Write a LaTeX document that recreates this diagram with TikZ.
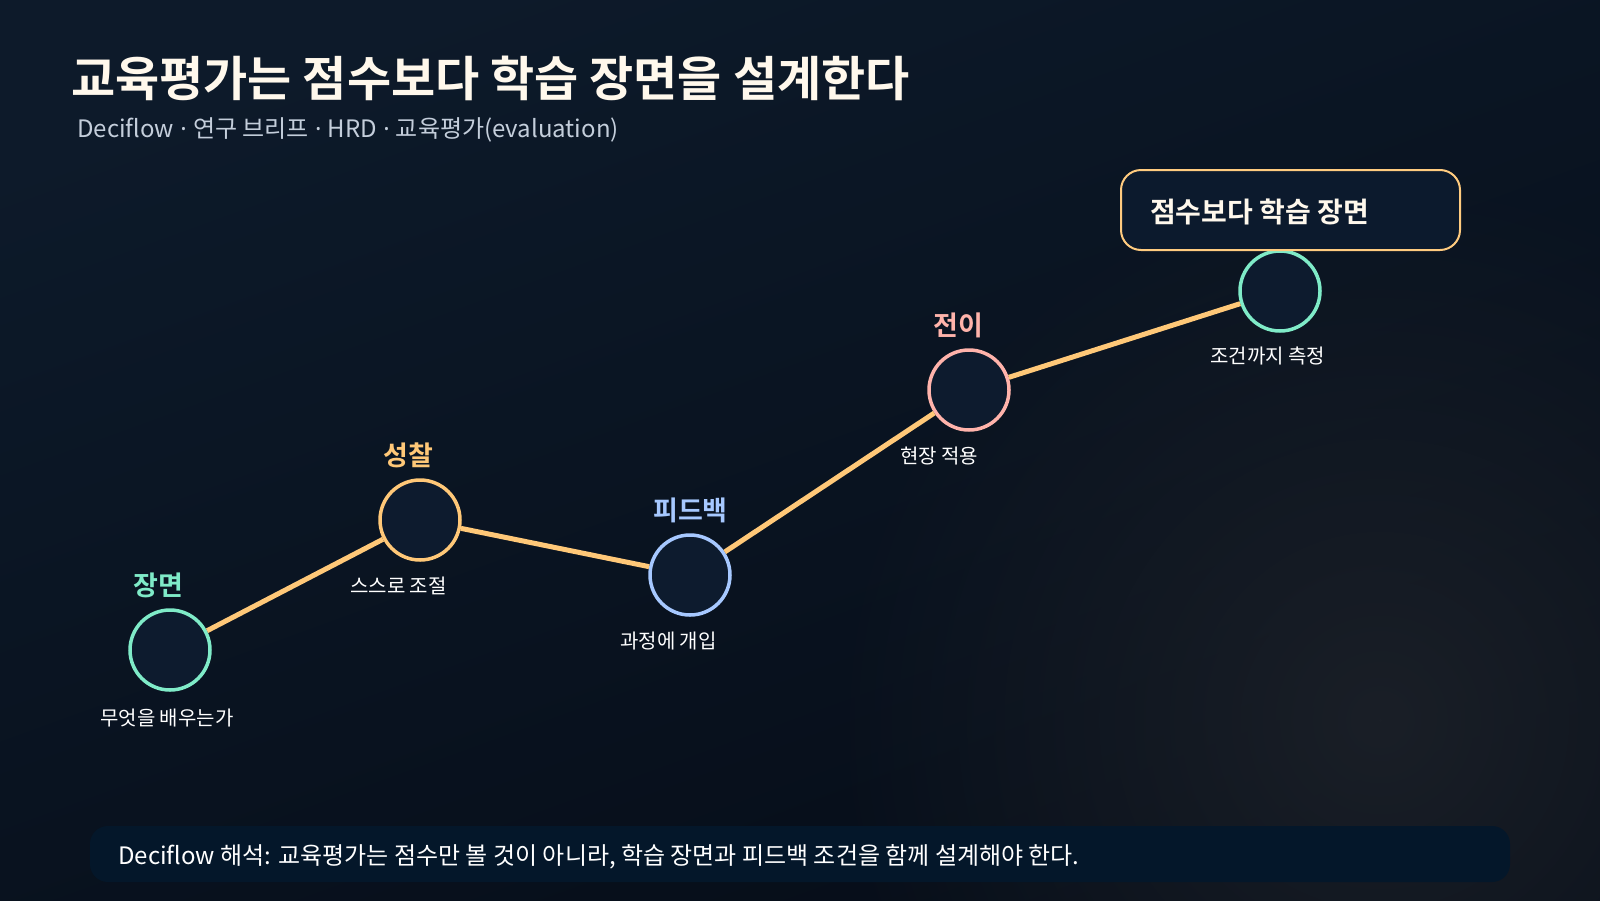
\documentclass[tikz,border=0pt]{standalone}
\usepackage{fontspec}
\setmainfont{Noto Sans CJK KR}[BoldFont={Noto Sans CJK KR Bold}]
\newfontfamily\dotfont{Noto Sans}
\newcommand{\mydot}{{\dotfont\ ·\ }}
\usetikzlibrary{calc,fadings}
\tikzfading[name=glowfade, inner color=transparent!0, outer color=transparent!100]
\definecolor{bgA}{HTML}{0D1A2A}
\definecolor{bgB}{HTML}{060D18}
\definecolor{glow}{HTML}{1A1F27}
\definecolor{nodefill}{HTML}{0D1B2E}
\definecolor{mint}{HTML}{7FEBC8}
\definecolor{amber}{HTML}{FFC878}
\definecolor{sky}{HTML}{A6C8FF}
\definecolor{rose}{HTML}{FFB3AB}
\definecolor{cream}{HTML}{FFF8EC}
\definecolor{subgray}{HTML}{C4CEDB}
\definecolor{barfill}{HTML}{04172A}
\definecolor{boxfill}{HTML}{0C1A2D}
\tikzset{
  stage/.style={circle, minimum size=80pt, inner sep=0pt, line width=3.5pt, fill=nodefill},
  conn/.style={draw=amber, line width=5pt},
  toplabel/.style={anchor=base west, inner sep=0pt, font=\fontsize{27}{30}\selectfont\bfseries},
  sublabel/.style={anchor=base west, inner sep=0pt, text=white, font=\fontsize{20}{23}\selectfont},
}
\begin{document}
\begin{tikzpicture}[x=1pt,y=-1pt]
\useasboundingbox (0,0) rectangle (1600,900);
\shade[top color=bgA, bottom color=bgB, shading angle=20] (0,0) rectangle (1600,900);
\fill[glow, path fading=glowfade] (1380,720) circle (560);
% title
\node[anchor=base west, inner sep=0pt, text=cream, font=\fontsize{48}{53}\selectfont\bfseries] (title) at (71,96) {교육평가는 점수보다 학습 장면을 설계한다};
\node[anchor=base west, inner sep=0pt, text=subgray, font=\fontsize{24}{27}\selectfont] (subtitle) at (77,137) {Deciflow\mydot 연구 브리프\mydot HRD\mydot 교육평가(evaluation)};
% stages
\node[stage, draw=mint] (n1) at (170,650) {};
\node[stage, draw=amber] (n2) at (420,520) {};
\node[stage, draw=sky] (n3) at (690,575) {};
\node[stage, draw=rose] (n4) at (969,390) {};
\node[stage, draw=mint] (n5) at (1280,291) {};
\draw[conn] (n1) -- (n2);
\draw[conn] (n2) -- (n3);
\draw[conn] (n3) -- (n4);
\draw[conn] (n4) -- (n5);
% top labels
\node[toplabel, text=mint] (t1) at ($(n1)+(-37,-55)$) {장면};
\node[toplabel, text=amber] (t2) at ($(n2)+(-37,-55)$) {성찰};
\node[toplabel, text=sky] (t3) at ($(n3)+(-37,-55)$) {피드백};
\node[toplabel, text=rose] (t4) at ($(n4)+(-36,-55)$) {전이};
% sub labels
\node[sublabel] (s1) at ($(n1)+(-70,75)$) {무엇을 배우는가};
\node[sublabel] (s2) at ($(n2)+(-70,73)$) {스스로 조절};
\node[sublabel] (s3) at ($(n3)+(-70,73)$) {과정에 개입};
\node[sublabel] (s4) at ($(n4)+(-69,73)$) {현장 적용};
\node[sublabel] (s5) at ($(n5)+(-70,72)$) {조건까지 측정};
% callout box
\draw[amber!95!white, line width=2pt, fill=boxfill, rounded corners=20pt] (1121,170) rectangle (1460,250);
\node[anchor=base west, inner sep=0pt, text=cream, font=\fontsize{28}{32}\selectfont\bfseries] (boxtext) at (1150,222) {점수보다 학습 장면};
% bottom bar
\fill[barfill, rounded corners=18pt] (90,826) rectangle (1510,882);
\node[anchor=base west, inner sep=0pt, text=white, font=\fontsize{24}{27}\selectfont] (note) at (118,864) {Deciflow 해석: 교육평가는 점수만 볼 것이 아니라, 학습 장면과 피드백 조건을 함께 설계해야 한다.};
\end{tikzpicture}
\end{document}
